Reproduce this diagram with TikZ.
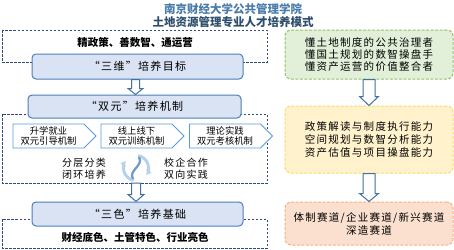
\documentclass[tikz,border=0pt]{standalone}
\usepackage{fontspec}
\setmainfont{Noto Sans CJK SC}
\newfontfamily\spaced[LetterSpace=12]{Noto Sans CJK SC}
\usetikzlibrary{positioning,calc,shapes.symbols,arrows.meta}
\definecolor{navy}{HTML}{2E4A7D}
\definecolor{boxline}{HTML}{4A7EBB}
\definecolor{boxfill}{HTML}{DAE3F3}
\definecolor{chevline}{HTML}{5B9BD5}
\definecolor{arrline}{HTML}{41719C}
\definecolor{greenfill}{HTML}{E2F0D9}
\definecolor{greenline}{HTML}{92C36B}
\definecolor{yellowfill}{HTML}{FFF2CC}
\definecolor{yellowline}{HTML}{FFD966}
\definecolor{orangefill}{HTML}{FBE0CF}
\definecolor{orangeline}{HTML}{F4B183}
% hollow arrow pointing down: from, to, half shaft, half head, head length
\newcommand{\hollowdown}[5]{%
  \draw[hollow] let \p1=(#1), \p2=(#2) in
    (\x1-#3,\y1)--(\x1-#3,\y2+#5)--(\x1-#4,\y2+#5)--(\x1,\y2)
    --(\x1+#4,\y2+#5)--(\x1+#3,\y2+#5)--(\x1+#3,\y1)--cycle;}

\begin{document}
\begin{tikzpicture}[x=1pt,y=-1pt,
  dashframe/.style={navy,line width=0.9pt,dash pattern=on 2.5pt off 1.5pt},
  bluebox/.style={draw=boxline,fill=boxfill,line width=1pt,rounded corners=4pt,
    minimum width=211pt,inner sep=0pt,font=\spaced\fontsize{11}{13}\selectfont},
  chev/.style={signal,signal to=east,signal pointer angle=90,draw=chevline,fill=white,
    line width=0.9pt,minimum width=83pt,minimum height=24pt,inner sep=0pt,
    align=center,font=\fontsize{9.3}{10.5}\selectfont},
  sidebox/.style={rounded corners=6pt,line width=1pt,dash pattern=on 3pt off 1.5pt,
    minimum width=168pt,inner sep=0pt,align=center,font=\spaced\fontsize{10.5}{13}\selectfont},
  hollow/.style={draw=arrline,fill=white,line width=1pt,line join=miter},
  iconarc/.style={line width=3pt,-{Latex[length=5pt,width=7pt]}}]
\useasboundingbox (0,0) rectangle (454,249);

% title
\node[font=\bfseries\fontsize{11.5}{13}\selectfont,text=chevline!80!black] (title1) at (233,9) {南京财经大学公共管理学院};
\node[font=\bfseries\fontsize{11.5}{13}\selectfont,text=arrline!70!black] (title2) at (233,22.5) {土地资源管理专业人才培养模式};

% dashed frames
\draw[dashframe] (2,30) rectangle (267,62);
\draw[dashframe] (2,114) rectangle (267,183);
\draw[dashframe] (2,219) rectangle (267,248);

\node[font=\bfseries\fontsize{10.5}{12}\selectfont] (jing) at (135,43) {精政策、善数智、通运营};
\node[bluebox,minimum height=25pt] (mubiao) at (137.5,66.5) {“三维”培养目标};
\node[bluebox,minimum width=213pt,minimum height=23pt] (jizhi) at (134.5,106.5) {“双元”培养机制};

\node[chev] (yindao) at (48.5,136) {升学就业\\双元引导机制};
\node[chev] (xunlian) at (136.5,136) {线上线下\\双元训练机制};
\node[chev] (kaohe) at (225,136) {理论实践\\双元考核机制};

\node[align=center,font=\spaced\fontsize{10}{11.5}\selectfont] (fenceng) at (84,168.5) {分层分类\\闭环培养};
\node[align=center,font=\spaced\fontsize{10}{11.5}\selectfont] (xiaoqi) at (186,168.5) {校企合作\\双向实践};
\node[minimum size=28pt,inner sep=0pt] (icon) at (136,168) {};
\begin{scope}[shift={(icon.center)},y=1pt]
  \draw[iconarc,chevline!45] (80:12.5) arc[start angle=80,end angle=-35,radius=12.5];
  \draw[iconarc,chevline!45] (260:12.5) arc[start angle=260,end angle=145,radius=12.5];
  \draw[line width=2.2pt,boxline!80] (-3,-11) .. controls (-8,-2) and (8,2) .. (3,11);
\end{scope}

\node[bluebox,minimum height=24pt] (sese) at (137.5,214) {“三色”培养基础};
\node[font=\bfseries\fontsize{10.5}{12}\selectfont] (caijing) at (135,237) {财经底色、土管特色、行业亮色};

\coordinate (k1) at ($(mubiao.south)+(-2,0)$);
\coordinate (k2) at (136,183);
\hollowdown{k1}{k1 |- jizhi.north}{4pt}{7.5pt}{6pt}
\hollowdown{k2}{k2 |- sese.north}{4.5pt}{8pt}{7pt}

% right column
\node[sidebox,draw=greenline,fill=greenfill,minimum height=49pt,font=\spaced\fontsize{10.5}{12}\selectfont] (mubiao2) at (369,54.5)
  {懂土地制度的公共治理者\\懂国土规划的数智操盘手\\懂资产运营的价值整合者};
\node[sidebox,draw=yellowline,fill=yellowfill,minimum height=67pt] (nengli) at (369,139.5)
  {政策解读与制度执行能力\\空间规划与数智分析能力\\资产估值与项目操盘能力};
\node[sidebox,draw=orangeline,fill=orangefill,minimum height=43pt] (saidao) at (369,223.5)
  {体制赛道/企业赛道/新兴赛道\\深造赛道};
\hollowdown{mubiao2.south}{nengli.north}{6pt}{9.5pt}{9pt}
\hollowdown{nengli.south}{saidao.north}{6pt}{9.5pt}{8pt}
\end{tikzpicture}
\end{document}
